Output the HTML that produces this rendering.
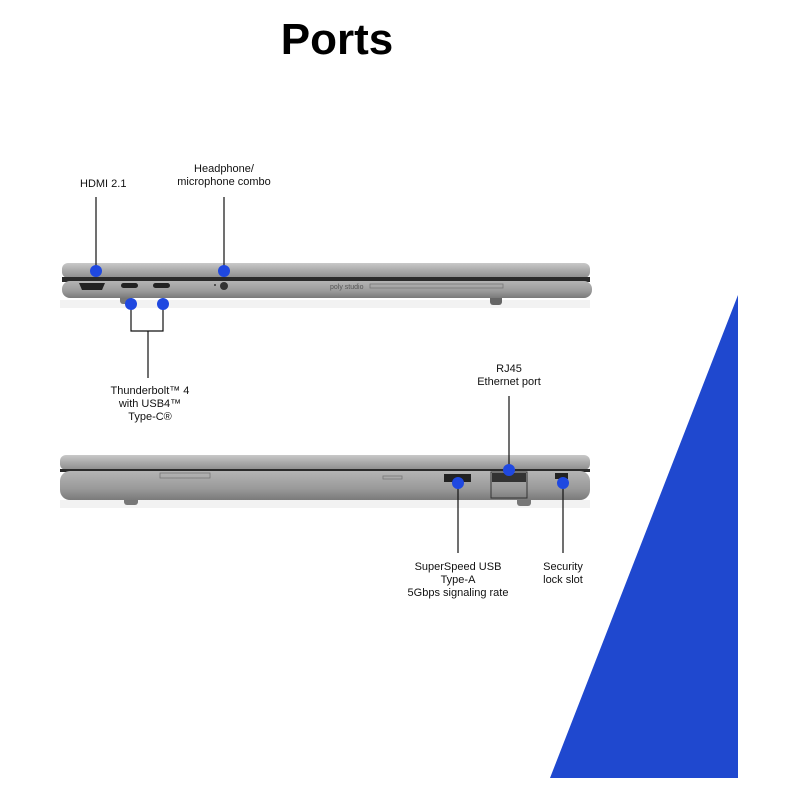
<!DOCTYPE html>
<html><head><style>body{margin:0;background:#fff}svg{display:block}text{font-family:"Liberation Sans",sans-serif;font-size:11px;fill:#111}</style></head>
<body>
<svg width="800" height="800" viewBox="0 0 800 800">
<defs>
<linearGradient id="lid" x1="0" y1="0" x2="0" y2="1"><stop offset="0" stop-color="#c9c9c9"/><stop offset="0.5" stop-color="#a9a9a9"/><stop offset="1" stop-color="#8d8d8d"/></linearGradient>
<linearGradient id="base" x1="0" y1="0" x2="0" y2="1"><stop offset="0" stop-color="#b4b4b4"/><stop offset="0.6" stop-color="#9a9a9a"/><stop offset="1" stop-color="#7a7a7a"/></linearGradient>
</defs>
<text x="337" y="54" text-anchor="middle" style="font-size:44px;font-weight:bold;fill:#000">Ports</text>
<polygon points="738,295 738,778 550,778" fill="#1f48cf"/>

<!-- laptop 1 -->
<rect x="60" y="300" width="530" height="8" fill="#f2f2f2"/>
<rect x="490" y="294" width="12" height="11" rx="3" fill="#666"/>
<rect x="120" y="294" width="12" height="10" rx="3" fill="#777"/>
<rect x="62" y="263" width="528" height="15" rx="6" fill="url(#lid)"/>
<rect x="62" y="277" width="528" height="5" fill="#2a2a2a"/>
<rect x="62" y="281" width="530" height="17" rx="8" fill="url(#base)"/>
<path d="M79 283h26l-3 7h-20z" fill="#222"/>
<rect x="121" y="283" width="17" height="5" rx="2.5" fill="#222"/>
<rect x="153" y="283" width="17" height="5" rx="2.5" fill="#222"/>
<circle cx="215" cy="285" r="1" fill="#333"/>
<circle cx="224" cy="286" r="4" fill="#333"/>
<text x="330" y="289" style="font-size:7px;fill:#555">poly studio</text>
<rect x="370" y="284" width="133" height="4" fill="none" stroke="#777" stroke-width="0.8"/>

<!-- laptop 2 -->
<rect x="60" y="500" width="530" height="8" fill="#f2f2f2"/>
<rect x="124" y="496" width="14" height="9" rx="3" fill="#777"/>
<rect x="517" y="496" width="14" height="10" rx="3" fill="#777"/>
<rect x="60" y="455" width="530" height="15" rx="6" fill="url(#lid)"/>
<rect x="60" y="469" width="530" height="3" fill="#2a2a2a"/>
<rect x="60" y="471" width="530" height="29" rx="10" fill="url(#base)"/>
<rect x="160" y="473" width="50" height="5" fill="none" stroke="#777" stroke-width="0.8"/>
<rect x="383" y="476" width="19" height="3" fill="none" stroke="#777" stroke-width="0.8"/>
<rect x="444" y="474" width="27" height="8" fill="#222"/>
<rect x="491" y="472" width="36" height="26" fill="none" stroke="#333" stroke-width="1"/>
<rect x="492" y="473" width="34" height="9" fill="#333"/>
<rect x="555" y="473" width="13" height="6" fill="#222"/>

<!-- connectors -->
<g stroke="#111" stroke-width="1.2" fill="none">
<path d="M96 197V271"/><path d="M224 197V271"/>
<path d="M131 304V331H163V304M148 331V378"/>
<path d="M509 396V470"/><path d="M458 483V553"/><path d="M563 483V553"/>
</g>
<g fill="#1f48e0">
<circle cx="96" cy="271" r="6"/><circle cx="224" cy="271" r="6"/>
<circle cx="131" cy="304" r="6"/><circle cx="163" cy="304" r="6"/>
<circle cx="509" cy="470" r="6"/><circle cx="458" cy="483" r="6"/><circle cx="563" cy="483" r="6"/>
</g>

<text x="80" y="187">HDMI 2.1</text>
<text x="224" y="172" text-anchor="middle">Headphone/</text>
<text x="224" y="185" text-anchor="middle">microphone combo</text>
<text x="150" y="394" text-anchor="middle">Thunderbolt™ 4</text>
<text x="150" y="407" text-anchor="middle">with USB4™</text>
<text x="150" y="420" text-anchor="middle">Type-C®</text>
<text x="509" y="372" text-anchor="middle">RJ45</text>
<text x="509" y="385" text-anchor="middle">Ethernet port</text>
<text x="458" y="570" text-anchor="middle">SuperSpeed USB</text>
<text x="458" y="583" text-anchor="middle">Type-A</text>
<text x="458" y="596" text-anchor="middle">5Gbps signaling rate</text>
<text x="563" y="570" text-anchor="middle">Security</text>
<text x="563" y="583" text-anchor="middle">lock slot</text>
</svg>
</body></html>
